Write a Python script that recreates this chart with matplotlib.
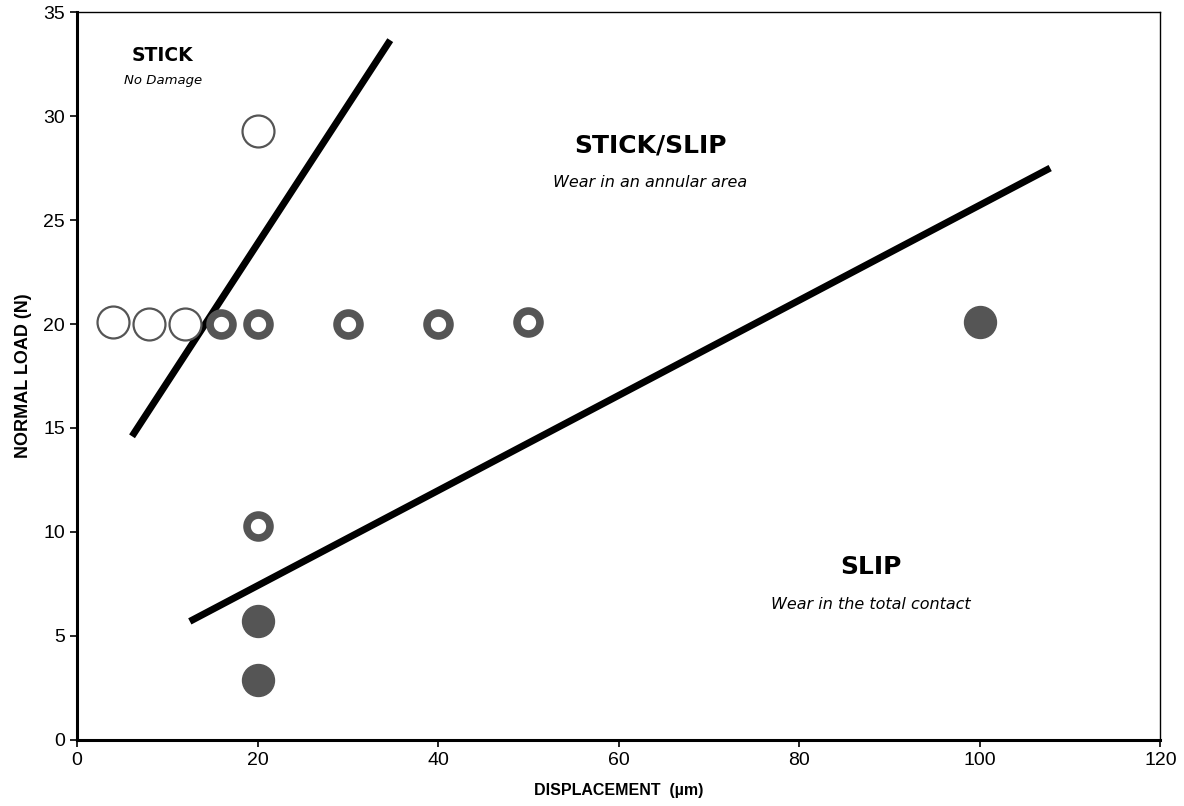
import matplotlib
matplotlib.use("Agg")
import matplotlib.pyplot as plt

# fretting regime map data
open_x = [4, 8, 12, 20]
open_y = [20.1, 20.0, 20.0, 29.3]

ring_x = [16, 20, 30, 40, 50, 20]
ring_y = [20.0, 20.0, 20.0, 20.0, 20.1, 10.3]

full_x = [100, 20, 20]
full_y = [20.1, 5.7, 2.9]

# regime boundaries
b1_x = [6.1, 34.7]
b1_y = [14.6, 33.65]
b2_x = [12.5, 107.8]
b2_y = [5.7, 27.5]

plt.rcParams['font.family'] = ['Liberation Sans', 'DejaVu Sans']
wide = ['DejaVu Sans']

fig = plt.figure(figsize=(11.84, 8.06), dpi=100)
ax = fig.add_axes([0.065, 0.082, 0.915, 0.903])

ax.plot(b1_x, b1_y, color='black', lw=5, solid_capstyle='butt', zorder=3)
ax.plot(b2_x, b2_y, color='black', lw=5, solid_capstyle='butt', zorder=3)

ax.plot(open_x, open_y, 'o', ms=23, mfc='white', mec='#555555', mew=1.6,
        ls='none', zorder=4)
ax.plot(ring_x, ring_y, 'o', ms=16.5, mfc='white', mec='#555555', mew=5.5,
        ls='none', zorder=4)
ax.plot(full_x, full_y, 'o', ms=23, mfc='#555555', mec='#555555', mew=1,
        ls='none', zorder=4)

# regime labels
ax.text(9.5, 32.9, 'STICK', ha='center', va='center', fontsize=13.5,
        fontweight='bold', family=wide)
ax.text(9.5, 31.7, 'No Damage', ha='center', va='center', fontsize=9.5,
        style='italic', family=wide)
ax.text(63.5, 28.6, 'STICK/SLIP', ha='center', va='center', fontsize=18,
        fontweight='bold', family=wide)
ax.text(63.5, 26.8, 'Wear in an annular area', ha='center', va='center',
        fontsize=11.5, style='italic', family=wide)
ax.text(87.9, 8.3, 'SLIP', ha='center', va='center', fontsize=18,
        fontweight='bold', family=wide)
ax.text(87.9, 6.5, 'Wear in the total contact', ha='center', va='center',
        fontsize=11.5, style='italic', family=wide)

ax.set_xlim(0, 120)
ax.set_ylim(0, 35)
ax.set_xticks(range(0, 121, 20))
ax.set_yticks(range(0, 36, 5))
ax.tick_params(direction='out', length=5, width=1.2, labelsize=14)

ax.set_xlabel('DISPLACEMENT  (µm)', fontsize=11.5, fontweight='bold',
              labelpad=10)
ax.set_ylabel('NORMAL LOAD (N)', fontsize=13, fontweight='bold',
              labelpad=8)

for s in ['left', 'bottom']:
    ax.spines[s].set_linewidth(2.2)
for s in ['top', 'right']:
    ax.spines[s].set_linewidth(1)

fig.savefig('out.png', dpi=100)
